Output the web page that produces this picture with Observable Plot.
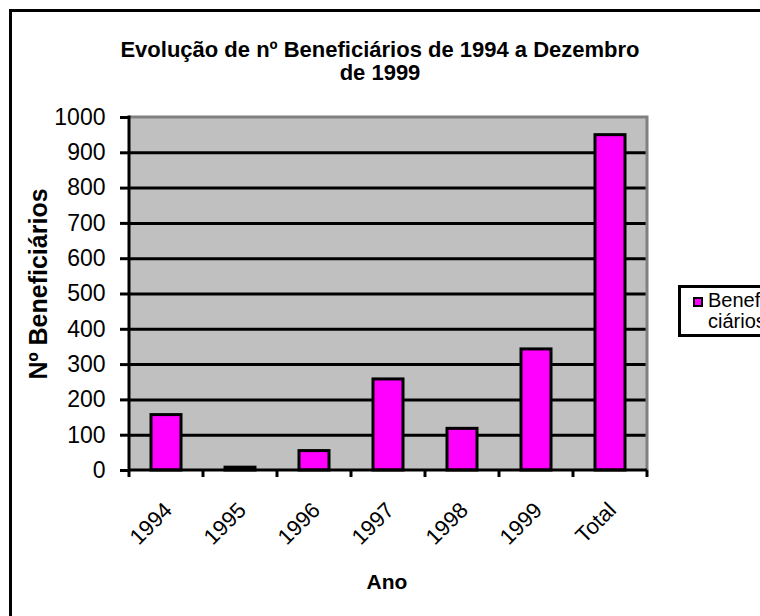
<!DOCTYPE html>
<html>
<head>
<meta charset="utf-8">
<script src="https://cdn.jsdelivr.net/npm/d3@7"></script>
<script src="https://cdn.jsdelivr.net/npm/@observablehq/plot@0.6"></script>
<style>
  html, body { margin: 0; padding: 0; background: #fff; overflow: hidden; }
  #wrap { position: relative; width: 760px; height: 616px; overflow: hidden; background: #fff;
          font-family: "Liberation Sans", Arial, sans-serif; color: #000; }
  #border { position: absolute; left: 9px; top: 9px; width: 900px; height: 800px;
            border-left: 3px solid #000; border-top: 3px solid #000; }
  #chart { position: absolute; left: 0; top: 0; }
  #title { position: absolute; left: 0; top: 38px; width: 760px; text-align: center;
           font-weight: bold; font-size: 22px; line-height: 23px; }
  #ylabel { position: absolute; left: 38px; top: 284px; transform: translate(-50%, -50%) rotate(-90deg);
            white-space: nowrap; font-weight: bold; font-size: 25px; }
  #xlabel { position: absolute; left: 387px; top: 582px; transform: translate(-50%, -50%);
            font-weight: bold; font-size: 21px; }
  #legend { position: absolute; left: 678px; top: 285px; width: 110px; height: 46px;
            border: 3px solid #000; background: #fff; font-size: 20px; line-height: 21px; }
  #legend .sw { position: absolute; left: 12px; top: 9px; width: 6px; height: 6px;
                border: 2px solid #000; }
  #legend .t { position: absolute; left: 27px; top: 2px; }
</style>
</head>
<body>
<div id="wrap">
  <div id="border"></div>
  <div id="chart"></div>
  <div id="title">Evolução de nº Beneficiários de 1994 a Dezembro<br>de 1999</div>
  <div id="ylabel">Nº Beneficiários</div>
  <div id="xlabel">Ano</div>
  <div id="legend"><div class="sw"></div><div class="t">Benefi<br>ciários</div></div>
</div>
<script>
const categories = ["1994", "1995", "1996", "1997", "1998", "1999", "Total"];
const beneficiarios = [157, 8, 55, 258, 118, 343, 950];
const yTicks = [0, 100, 200, 300, 400, 500, 600, 700, 800, 900, 1000];
const seriesName = "Beneficiários";
const barColor = "#ff00ff";

document.querySelector("#legend .sw").style.background = barColor;

const data = categories.map((ano, i) => ({ano, n: beneficiarios[i]}));

function bandEdges(scales, dims) {
  const x = scales.x;
  const dom = x.domain();
  const step = x.step ? x.step() : (dims.width - dims.marginLeft - dims.marginRight) / dom.length;
  const bw = x.bandwidth ? x.bandwidth() : 0;
  const xl = x(dom[0]) + bw / 2 - step / 2;
  return {dom, step, xl, xr: xl + step * dom.length};
}

function decor(index, scales, values, dims) {
  const {xl, xr} = bandEdges(scales, dims);
  const y0 = scales.y(0), yt = scales.y(d3.max(yTicks));
  const g = d3.create("svg:g");
  g.append("path").attr("d", `M${xl},${yt}H${xr}V${y0}`)
    .attr("fill", "none").attr("stroke", "#808080").attr("stroke-width", 3);
  return g.node();
}

function axes(index, scales, values, dims) {
  const {dom, step, xl, xr} = bandEdges(scales, dims);
  const y0 = scales.y(0), yt = scales.y(d3.max(yTicks));
  const g = d3.create("svg:g").attr("stroke", "#000").attr("stroke-width", 3).attr("fill", "none");
  g.append("path").attr("d", `M${xl},${yt - 1.5}V${y0}`);
  g.append("path").attr("d", `M${xl},${y0}H${xr}`);
  for (let i = 0; i <= dom.length; i++) {
    const xi = xl + i * step;
    g.append("path").attr("d", `M${xi},${y0}V${y0 + 7}`);
  }
  return g.node();
}

const chart = Plot.plot({
  width: 760,
  height: 616,
  marginLeft: 129,
  marginRight: 113,
  marginTop: 117,
  marginBottom: 146,
  style: {background: "transparent", color: "#000", fontFamily: "'Liberation Sans', Arial, sans-serif"},
  x: {domain: categories, paddingInner: 0.6, paddingOuter: 0.3, label: null},
  y: {domain: [0, 1000], label: null},
  marks: [
    Plot.frame({fill: "#c0c0c0", stroke: null}),
    Plot.ruleY(yTicks.filter(d => d > 0 && d < 1000), {stroke: "#000", strokeWidth: 3}),
    decor,
    Plot.barY(data, {x: "ano", y: "n", fill: barColor, stroke: "#000", strokeWidth: 3, title: d => `${seriesName}: ${d.n}`}),
    axes,
    Plot.axisY({ticks: yTicks, tickSize: 9, tickPadding: 15, fontSize: 23, strokeWidth: 3, tickFormat: d => String(d), label: null}),
    Plot.axisX({tickRotate: -45, tickSize: 0, tickPadding: 36, fontSize: 22, dx: 2, label: null})
  ]
});
document.getElementById("chart").appendChild(chart);
</script>
</body>
</html>
